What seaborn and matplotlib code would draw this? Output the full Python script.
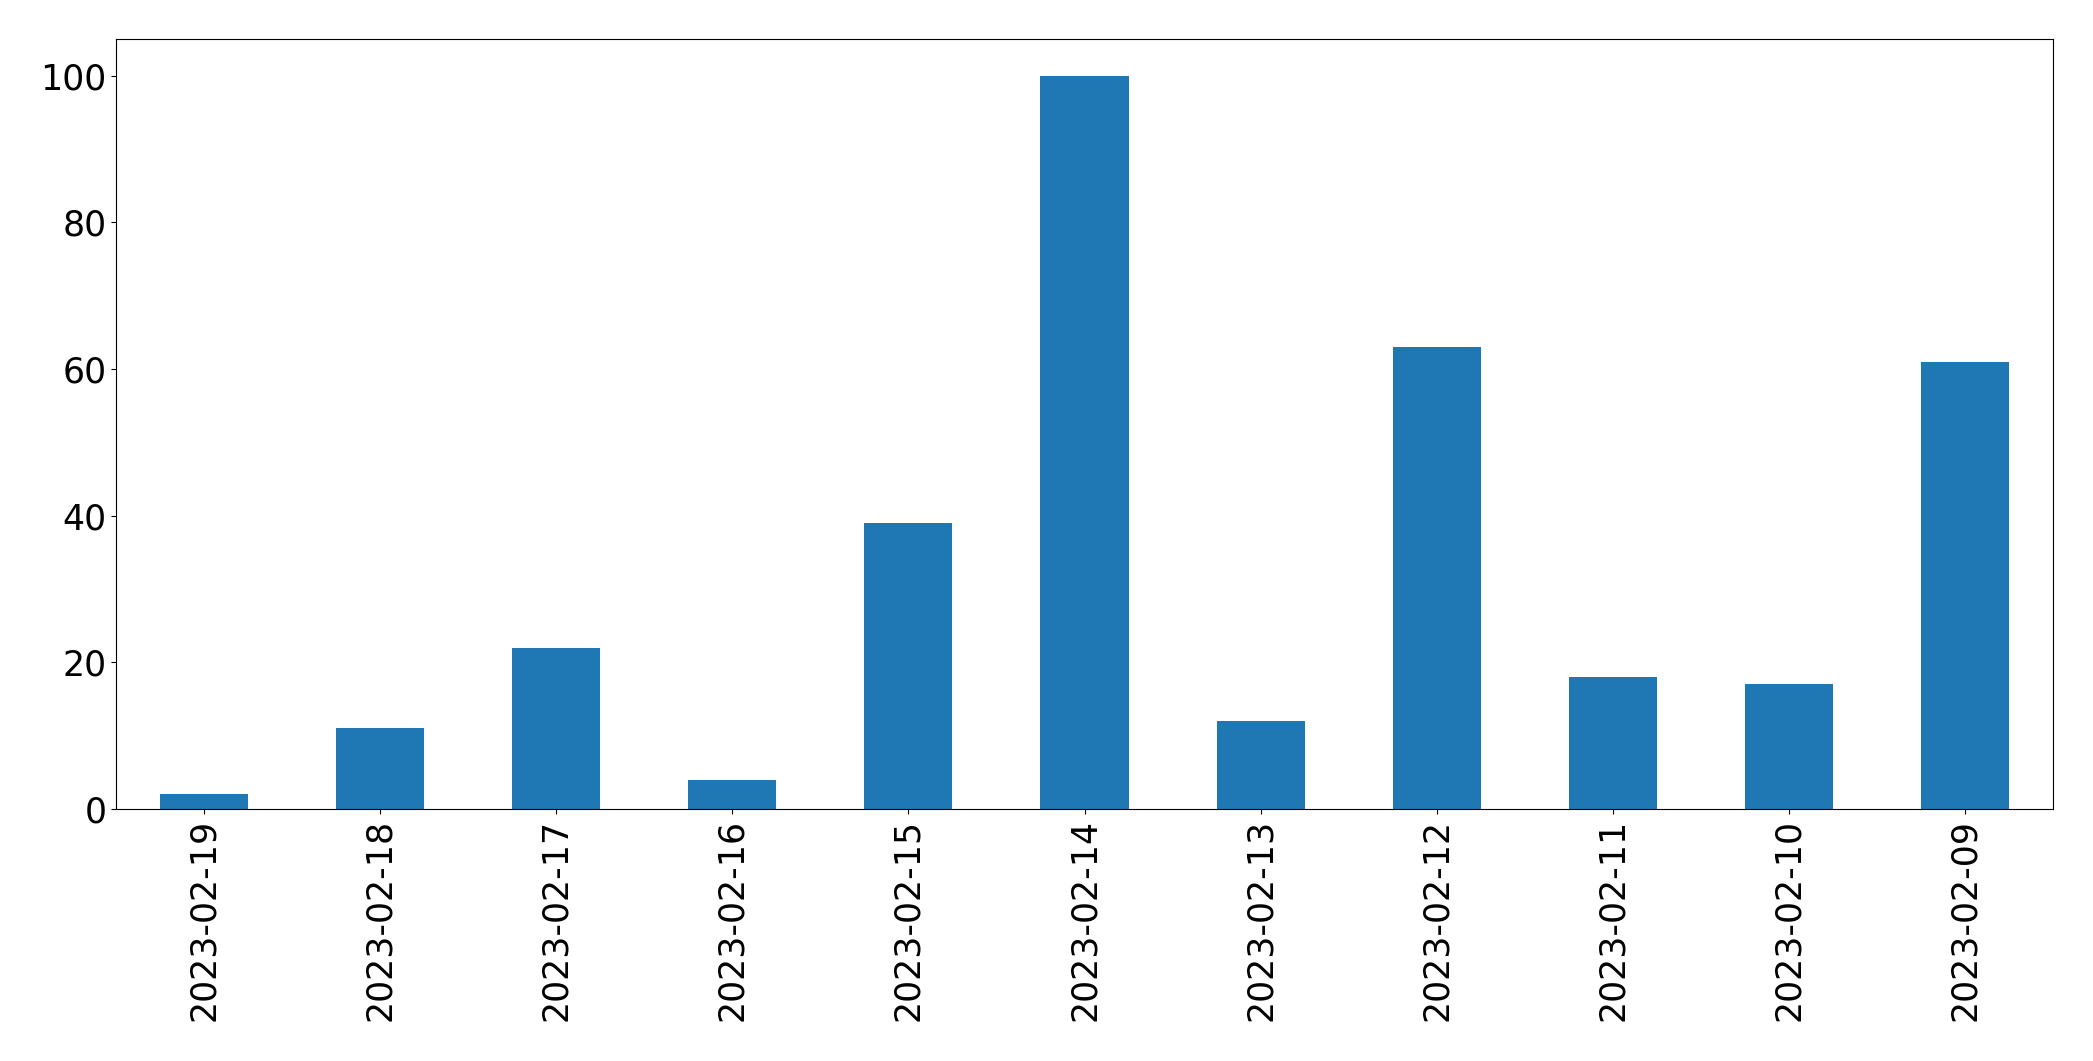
import numpy as np
import pandas as pd
import matplotlib
matplotlib.use("Agg")
import matplotlib.pyplot as plt
import seaborn as sns

# Data
dates = ["2023-02-19", "2023-02-18", "2023-02-17", "2023-02-16", "2023-02-15",
         "2023-02-14", "2023-02-13", "2023-02-12", "2023-02-11", "2023-02-10",
         "2023-02-09"]
counts = [2, 11, 22, 4, 39, 100, 12, 63, 18, 17, 61]

df = pd.DataFrame({"date": dates, "count": counts})

fig = plt.figure(figsize=(20.93, 10.61), dpi=100)
ax = fig.add_axes([116 / 2093, 1 - 809 / 1061, (2053 - 116) / 2093, (809 - 39) / 1061])

sns.barplot(data=df, x="date", y="count", color="#1f77b4", saturation=1,
            width=0.5, order=dates, ax=ax)

ax.set_xlim(-0.5, len(dates) - 0.5)
ax.set_ylim(0, 105)
ax.set_xlabel("")
ax.set_ylabel("")
ax.tick_params(axis="both", labelsize=25)
ax.tick_params(axis="x", rotation=90)
for s in ax.spines.values():
    s.set_color("black")

fig.savefig("out.png", dpi=100)
